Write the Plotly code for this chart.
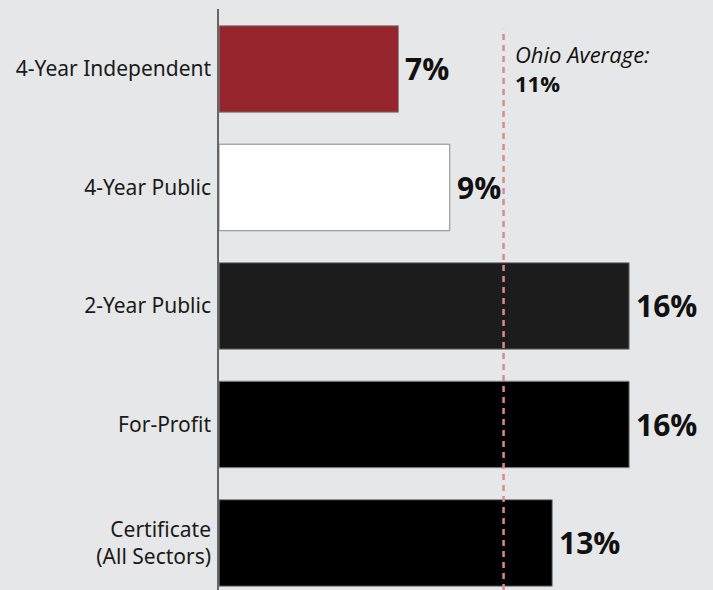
import plotly.graph_objects as go

# data
sectors = ["4-Year Independent", "4-Year Public", "2-Year Public", "For-Profit",
           "Certificate<br>(All Sectors)"]
rates = [7, 9, 16, 16, 13]
bar_colors = ["#96242d", "#ffffff", "#1c1c1c", "#000000", "#000000"]
ohio_avg = 11.1
ohio_label = "11%"

fig = go.Figure()

fig.add_trace(go.Bar(
    x=rates,
    y=sectors,
    orientation="h",
    width=0.73,
    marker=dict(color=bar_colors, line=dict(color="#8a8a8a", width=1)),
    hoverinfo="skip",
))

# value labels to the right of each bar
for s, r in zip(sectors, rates):
    fig.add_annotation(x=r, y=s, xref="x", yref="y", xanchor="left",
                       xshift=5, showarrow=False, text=f"<b>{r}%</b>",
                       font=dict(family="Open Sans", size=30, color="#111111"))

# Ohio average reference line
fig.add_shape(type="line", xref="x", yref="paper",
              x0=ohio_avg, x1=ohio_avg, y0=0, y1=0.966,
              line=dict(color="#d98a90", width=2.5, dash="6px,5px"),
              layer="above")

fig.add_annotation(x=ohio_avg, y=0.952, xref="x", yref="paper",
                   xanchor="left", yanchor="top", xshift=9, align="left",
                   showarrow=False,
                   text=f"<i>Ohio Average:</i><br><b>{ohio_label}</b>",
                   font=dict(family="Open Sans", size=22, color="#111111"))

fig.update_layout(
    width=713, height=590,
    margin=dict(l=219, r=0, t=9, b=0),
    paper_bgcolor="#e6e7e8",
    plot_bgcolor="#e6e7e8",
    showlegend=False,
    xaxis=dict(range=[0, 19.27], visible=False, fixedrange=True),
    yaxis=dict(categoryorder="array", categoryarray=sectors,
               range=[4.397, -0.506],
               showline=True, linecolor="#666666", linewidth=1.5,
               showgrid=False, zeroline=False,
               ticks="outside", ticklen=2, tickcolor="rgba(0,0,0,0)",
               tickfont=dict(family="Noto Sans", size=21, color="#1a1a1a")),
)

fig.write_html("out.html", config={"displayModeBar": False},
               post_script="document.body.style.margin='0';")
